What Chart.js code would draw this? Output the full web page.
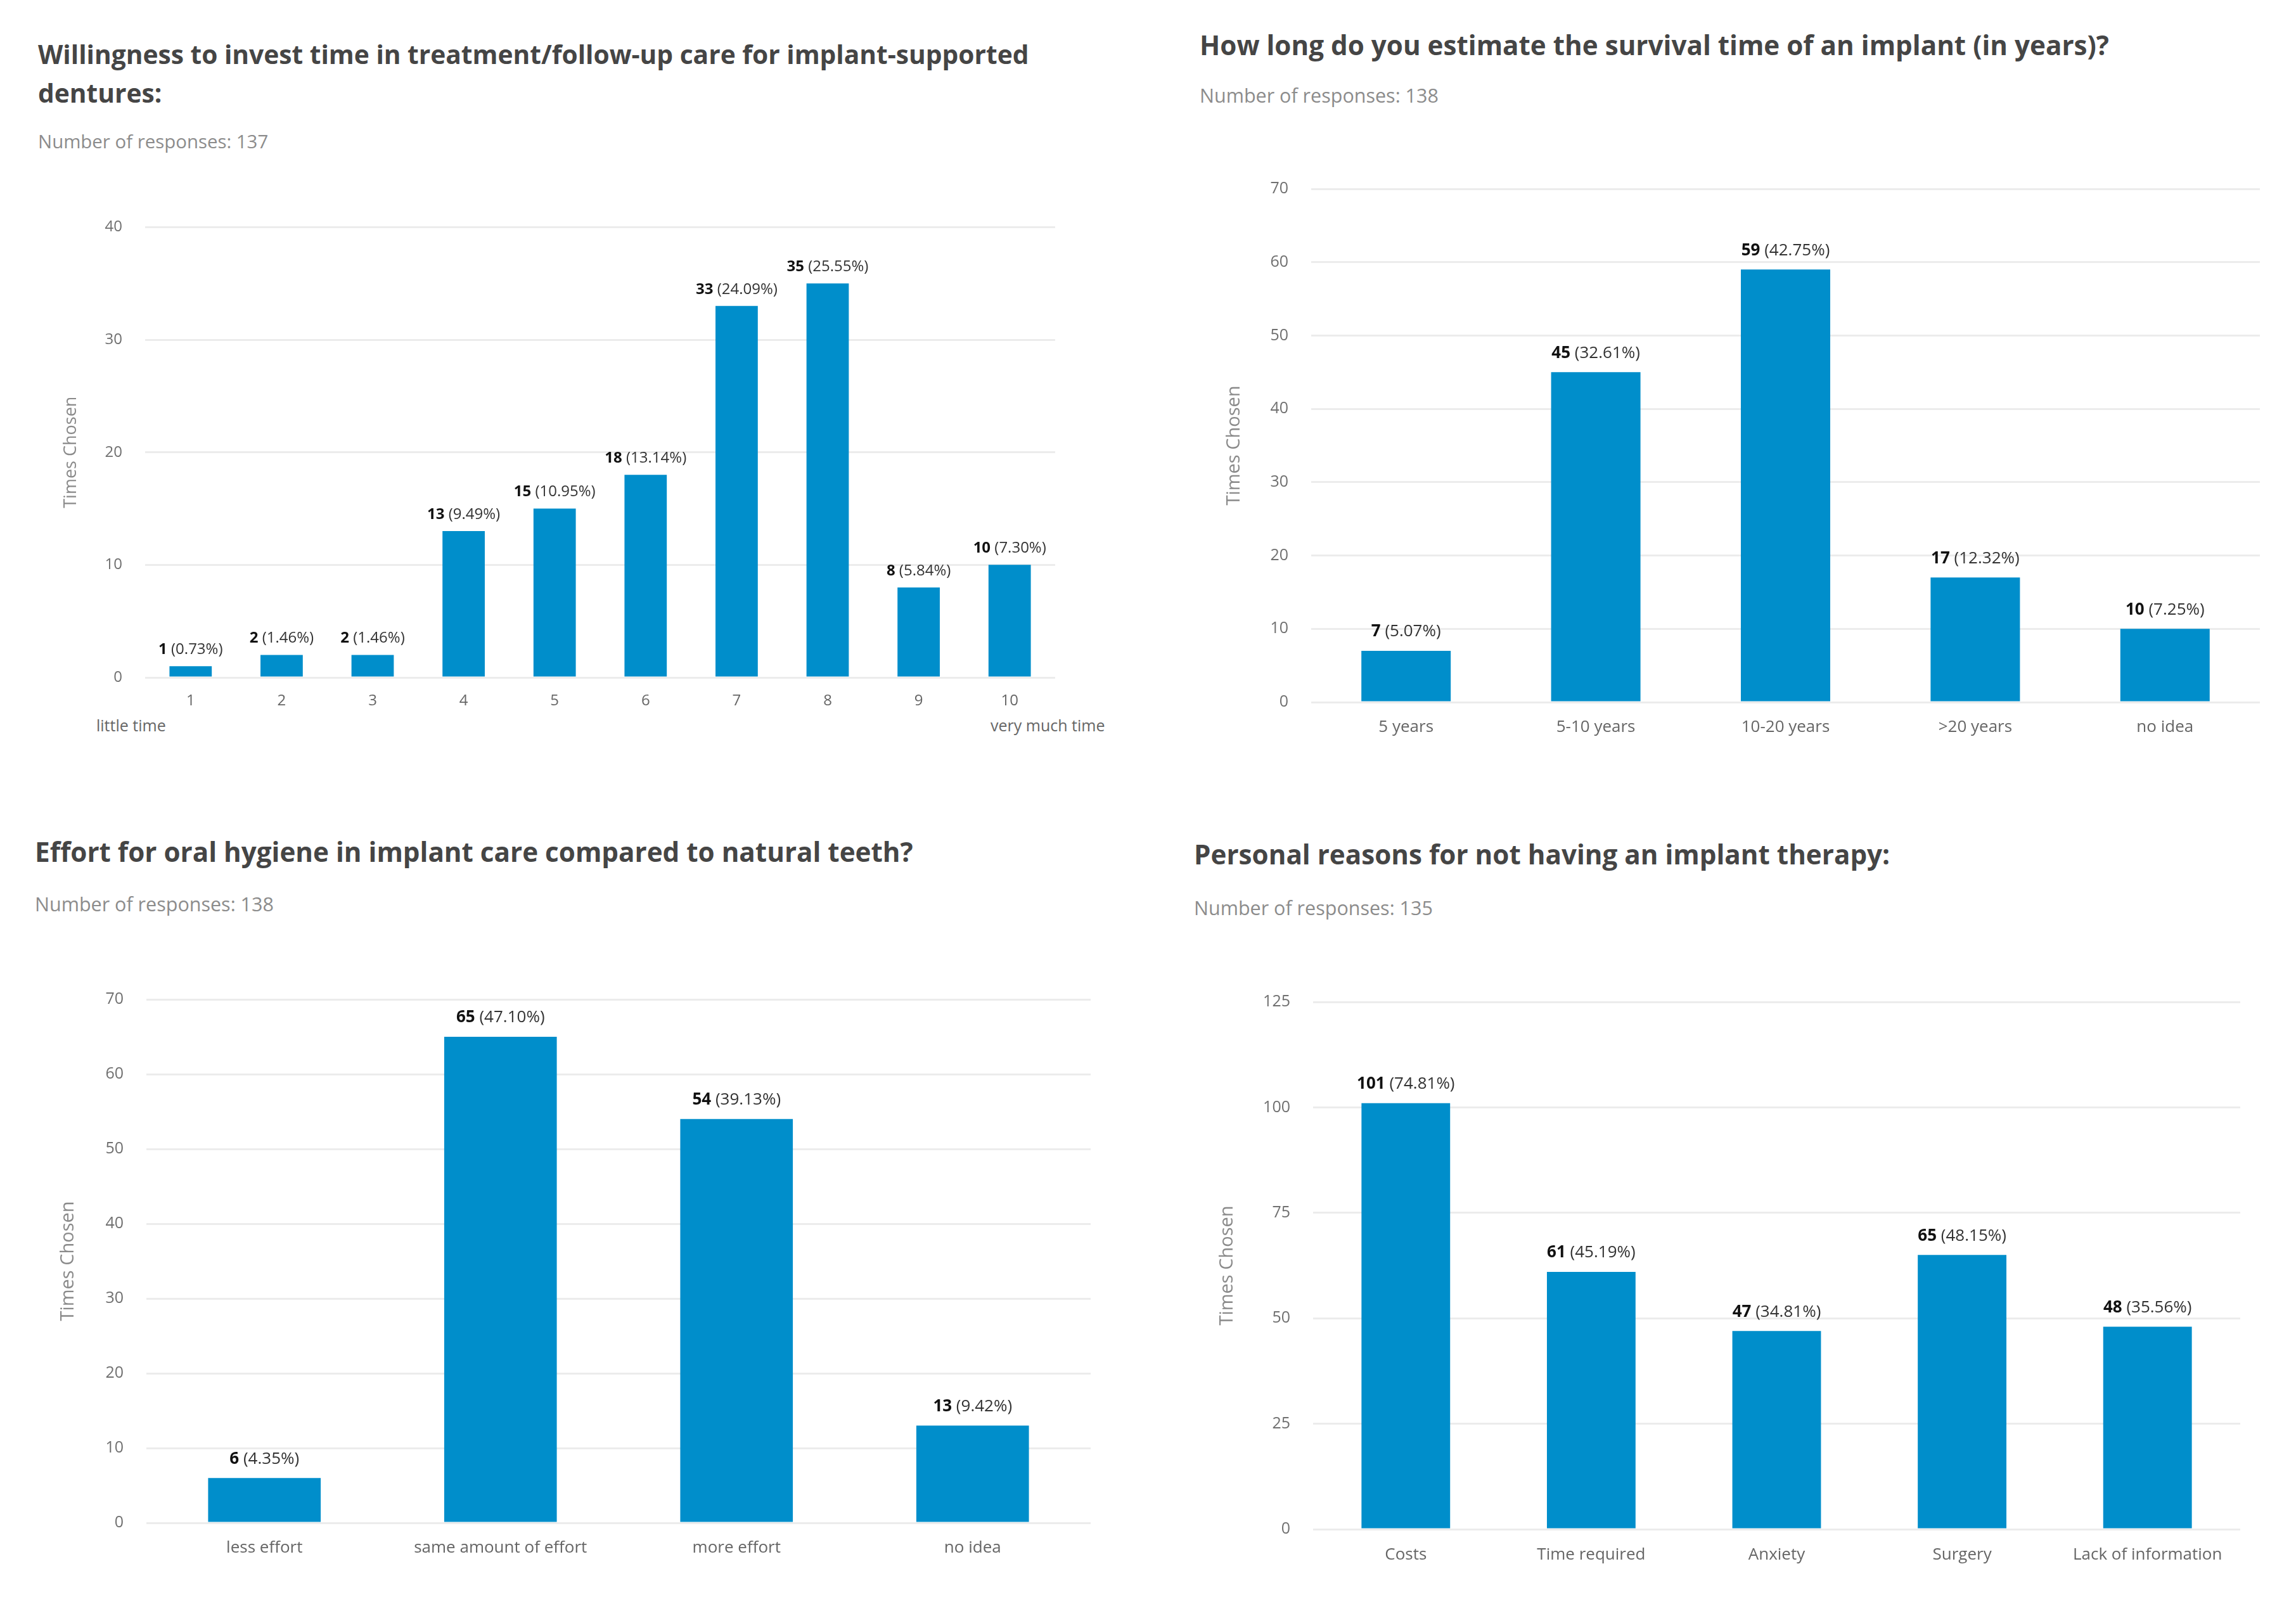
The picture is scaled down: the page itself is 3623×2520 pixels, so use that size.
<!DOCTYPE html>
<html>
<head>
<meta charset="utf-8">
<title>Implant survey charts</title>
<script src="https://cdn.jsdelivr.net/npm/chart.js@4.4.1/dist/chart.umd.min.js"></script>
<style>
  html, body { margin: 0; padding: 0; background: #fff; }
  body { width: 3623px; height: 2520px; position: relative; overflow: hidden; font-family: 'Open Sans', sans-serif; }
  .title { position: absolute; font-weight: 700; font-size: 42.2px; line-height: 61px; color: #454545; white-space: nowrap; }
  .sub { position: absolute; font-size: 30.5px; line-height: 40px; color: #8c8c8c; white-space: nowrap; }
  .note { position: absolute; font-size: 25px; line-height: 34px; color: #666; white-space: nowrap; }
  .small { font-size: 40.7px; }
  .sub.small { font-size: 29.4px; }
  canvas { position: absolute; }
</style>
</head>
<body>

<div class="title small" style="left:60px;top:55px">Willingness to invest time in treatment/follow-up care for implant-supported<br>dentures:</div>
<div class="sub small" style="left:60px;top:203px">Number of responses: 137</div>
<div class="note" style="left:152px;top:1127px">little time</div>
<div class="note" style="left:1563px;top:1127px">very much time</div>
<canvas id="c1"></canvas>

<div class="title" style="left:1893px;top:40px">How long do you estimate the survival time of an implant (in years)?</div>
<div class="sub" style="left:1893px;top:130px">Number of responses: 138</div>
<canvas id="c2"></canvas>

<div class="title" style="left:55px;top:1313px">Effort for oral hygiene in implant care compared to natural teeth?</div>
<div class="sub" style="left:55px;top:1406px">Number of responses: 138</div>
<canvas id="c3"></canvas>

<div class="title" style="left:1884px;top:1317px">Personal reasons for not having an implant therapy:</div>
<div class="sub" style="left:1884px;top:1412px">Number of responses: 135</div>
<canvas id="c4"></canvas>

<script>
// --- data ---
const timeLabels = ['1', '2', '3', '4', '5', '6', '7', '8', '9', '10'];
const timeCounts = [1, 2, 2, 13, 15, 18, 33, 35, 8, 10];
const timePcts = [0.73, 1.46, 1.46, 9.49, 10.95, 13.14, 24.09, 25.55, 5.84, 7.30];
const timeTicks = [0, 10, 20, 30, 40];

const survivalLabels = ['5 years', '5-10 years', '10-20 years', '>20 years', 'no idea'];
const survivalCounts = [7, 45, 59, 17, 10];
const survivalPcts = [5.07, 32.61, 42.75, 12.32, 7.25];
const survivalTicks = [0, 10, 20, 30, 40, 50, 60, 70];

const effortLabels = ['less effort', 'same amount of effort', 'more effort', 'no idea'];
const effortCounts = [6, 65, 54, 13];
const effortPcts = [4.35, 47.10, 39.13, 9.42];
const effortTicks = [0, 10, 20, 30, 40, 50, 60, 70];

const reasonLabels = ['Costs', 'Time required', 'Anxiety', 'Surgery', 'Lack of information'];
const reasonCounts = [101, 61, 47, 65, 48];
const reasonPcts = [74.81, 45.19, 34.81, 48.15, 35.56];
const reasonTicks = [0, 25, 50, 75, 100, 125];

const BAR = '#008ecb';
const GRID = '#ececec';
const FONT = "'Open Sans', sans-serif";

Chart.defaults.font.family = FONT;

// count in bold + percentage, centred over each bar
const valueLabels = {
  id: 'valueLabels',
  afterDatasetsDraw(chart, args, opts) {
    const ctx = chart.ctx;
    const meta = chart.getDatasetMeta(0);
    const values = chart.data.datasets[0].data;
    const bold = `700 ${opts.size}px ${FONT}`;
    const normal = `400 ${opts.size}px ${FONT}`;
    meta.data.forEach((bar, i) => {
      const a = String(values[i]);
      const b = ' (' + opts.pcts[i].toFixed(2) + '%)';
      ctx.save();
      ctx.textBaseline = 'middle';
      ctx.textAlign = 'left';
      ctx.font = bold;
      const wa = ctx.measureText(a).width;
      ctx.font = normal;
      const wb = ctx.measureText(b).width;
      const x = bar.x - (wa + wb) / 2;
      const y = bar.y - opts.gap;
      ctx.font = bold;
      ctx.fillStyle = '#111';
      ctx.fillText(a, x, y);
      ctx.font = normal;
      ctx.fillStyle = '#333';
      ctx.fillText(b, x + wa, y);
      ctx.restore();
    });
  }
};

function makeChart(id, labels, counts, pcts, ticks, box) {
  const [L, T, R, B] = box.area;
  const titleLH = box.fonts.ytitle * 1.2;
  const left = Math.round(box.titleX - titleLH / 2);
  const top = T - 40;
  const width = R + 10 - left;
  const height = B + 80 - top;

  const canvas = document.getElementById(id);
  canvas.width = width;
  canvas.height = height;
  canvas.style.left = left + 'px';
  canvas.style.top = top + 'px';
  canvas.style.width = width + 'px';
  canvas.style.height = height + 'px';

  return new Chart(canvas, {
    type: 'bar',
    data: {
      labels: labels,
      datasets: [{
        data: counts,
        backgroundColor: BAR,
        borderWidth: 0,
        categoryPercentage: 1,
        barPercentage: box.barPct
      }]
    },
    options: {
      responsive: false,
      devicePixelRatio: 1,
      animation: false,
      layout: { padding: { top: 40, right: 10, left: 0, bottom: 0 } },
      plugins: {
        legend: { display: false },
        tooltip: { enabled: false },
        valueLabels: { pcts: pcts, size: box.fonts.data, gap: box.gap }
      },
      scales: {
        x: {
          grid: { display: false },
          border: { display: false },
          ticks: { color: '#666', padding: box.xPad, font: { size: box.fonts.xtick }, maxRotation: 0, autoSkip: false },
          afterFit: s => { s.height = 80; }
        },
        y: {
          min: ticks[0],
          max: ticks[ticks.length - 1],
          afterBuildTicks: s => { s.ticks = ticks.map(v => ({ value: v })); },
          grid: { color: GRID, lineWidth: 3, drawTicks: false },
          border: { display: false },
          ticks: { color: '#707070', padding: 36, font: { size: box.fonts.ytick } },
          title: {
            display: true,
            text: 'Times Chosen',
            color: '#8a8a8a',
            padding: { top: 0, bottom: 0 },
            font: { size: box.fonts.ytitle }
          },
          afterFit: s => { s.width = L - left; }
        }
      }
    },
    plugins: [valueLabels]
  });
}

function build() {
  makeChart('c1', timeLabels, timeCounts, timePcts, timeTicks, {
    area: [229, 348, 1665, 1069], titleX: 112, barPct: 0.465, xPad: 15, gap: 26,
    fonts: { ytick: 24, xtick: 24, data: 24, ytitle: 27 }
  });
  makeChart('c2', survivalLabels, survivalCounts, survivalPcts, survivalTicks, {
    area: [2069, 287, 3566, 1108], titleX: 1947, barPct: 0.471, xPad: 16, gap: 30,
    fonts: { ytick: 25, xtick: 26, data: 26, ytitle: 29 }
  });
  makeChart('c3', effortLabels, effortCounts, effortPcts, effortTicks, {
    area: [231, 1566, 1721, 2403], titleX: 107, barPct: 0.477, xPad: 16, gap: 30,
    fonts: { ytick: 25, xtick: 26, data: 26, ytitle: 29 }
  });
  makeChart('c4', reasonLabels, reasonCounts, reasonPcts, reasonTicks, {
    area: [2072, 1570, 3535, 2413], titleX: 1936, barPct: 0.478, xPad: 17, gap: 30,
    fonts: { ytick: 25, xtick: 26, data: 26, ytitle: 29 }
  });
}

if (document.fonts && document.fonts.ready) {
  document.fonts.ready.then(build);
} else {
  build();
}
</script>
</body>
</html>
